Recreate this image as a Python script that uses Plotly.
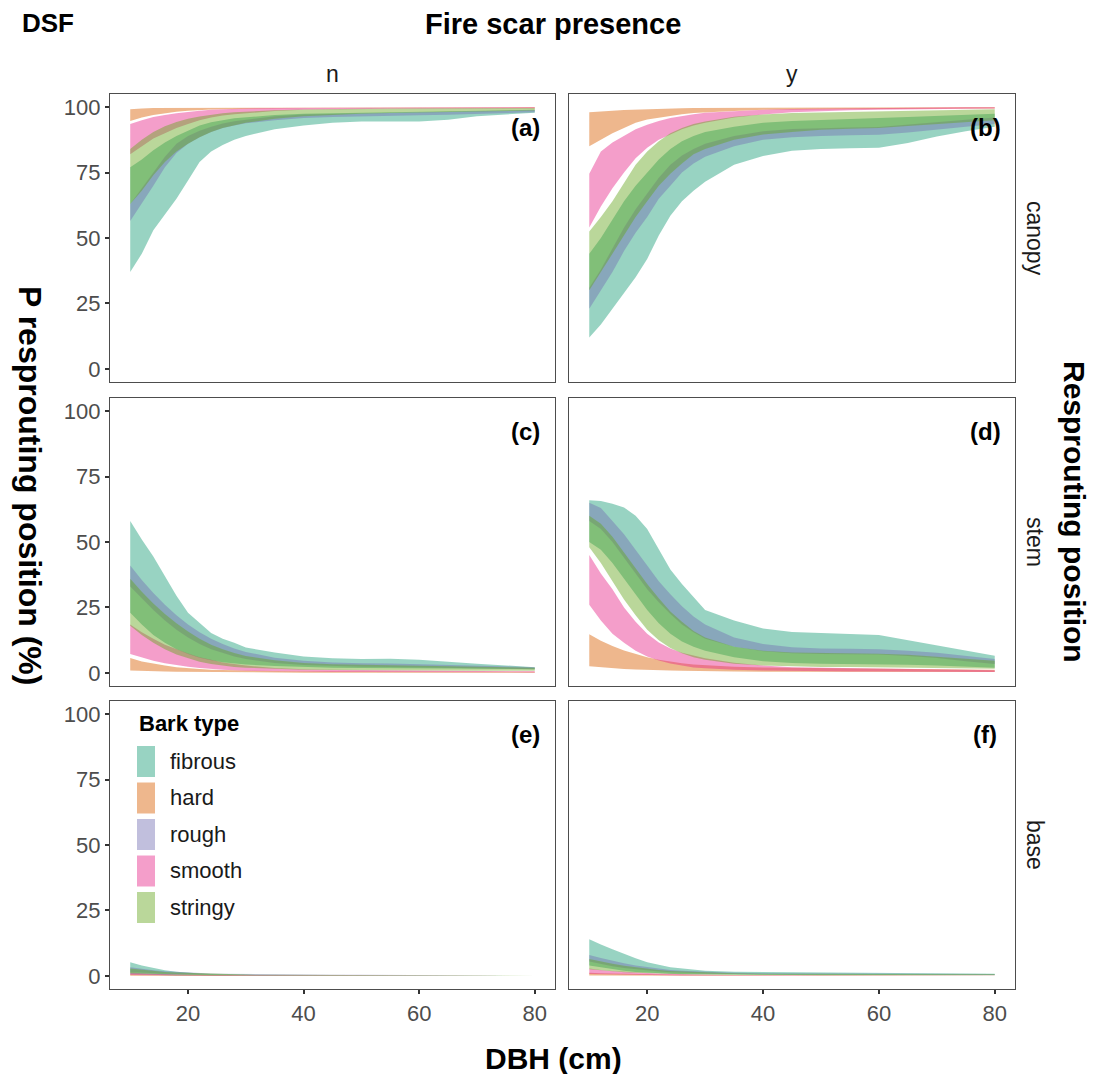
import plotly.graph_objects as go
from plotly.subplots import make_subplots

# ---------------- data ----------------
DBH = [10, 12, 14, 16, 18, 20, 22, 24, 26, 28, 30, 35, 40, 45, 50, 55, 60, 65, 70, 75, 80]
BARK_TYPES = ["fibrous", "hard", "rough", "smooth", "stringy"]
BARK_RGB = {"fibrous": "27,158,119", "hard": "217,95,2", "rough": "117,112,179",
            "smooth": "231,41,138", "stringy": "102,166,30"}
FIRE_SCAR = ["n", "y"]
POSITIONS = ["canopy", "stem", "base"]
PANEL_TAGS = [["(a)", "(b)"], ["(c)", "(d)"], ["(e)", "(f)"]]
X_TICKS = [20, 40, 60, 80]
Y_TICKS = [0, 25, 50, 75, 100]

# canopy, fire scar = n  (panel a)
canopy_n_lower = {
    "fibrous": [37, 44, 53, 59, 65, 72, 79, 83, 85.5, 87.5, 89, 91.5, 93, 94, 94.5, 94.5, 94.5, 95.2, 96.5, 97.2, 97.8],
    "hard":    [94.7, 96, 97, 97.7, 98.2, 98.6, 98.9, 99.1, 99.2, 99.3, 99.4, 99.5, 99.6, 99.6, 99.6, 99.7, 99.7, 99.7, 99.7, 99.7, 99.7],
    "rough":   [56.5, 63, 70, 77, 82.5, 86, 88.5, 90.5, 92, 93, 93.8, 95, 95.8, 96.2, 96.5, 96.7, 96.9, 97.1, 97.4, 97.7, 98],
    "smooth":  [82, 85, 88, 90, 92, 93.5, 95, 96, 96.8, 97.3, 97.7, 98.5, 99, 99.2, 99.3, 99.4, 99.4, 99.5, 99.5, 99.5, 99.5],
    "stringy": [63, 68, 74, 79, 83, 86, 88.5, 90.5, 92, 93, 94, 95.5, 96.5, 97, 97.5, 97.7, 97.9, 98.1, 98.3, 98.5, 98.7],
}
canopy_n_upper = {
    "fibrous": [77, 80, 83.5, 86.5, 89, 91, 93, 94.2, 95, 95.7, 96.2, 97, 97.5, 97.8, 98, 98.1, 98.2, 98.4, 98.6, 98.8, 99],
    "hard":    [99.2, 99.5, 99.7, 99.8, 99.85, 99.9, 99.9, 99.9, 99.9, 99.9, 99.9, 99.9, 99.9, 99.9, 99.9, 99.9, 99.9, 99.9, 99.9, 99.9, 99.9],
    "rough":   [63, 69, 75, 81, 86, 89, 91, 92.5, 93.7, 94.6, 95.3, 96.5, 97.2, 97.6, 97.8, 98, 98.1, 98.3, 98.5, 98.7, 98.9],
    "smooth":  [93.5, 95, 96.2, 97, 97.6, 98.2, 98.6, 99, 99.2, 99.4, 99.5, 99.7, 99.8, 99.85, 99.9, 99.9, 99.9, 99.9, 99.9, 99.9, 99.9],
    "stringy": [84, 87.5, 90.5, 92.7, 94.3, 95.5, 96.4, 97.1, 97.6, 98, 98.3, 98.8, 99.1, 99.3, 99.4, 99.5, 99.5, 99.6, 99.6, 99.7, 99.7],
}

# canopy, fire scar = y  (panel b)
canopy_y_lower = {
    "fibrous": [12, 17, 23, 29, 35, 42, 51, 58.5, 64, 68, 71.5, 78, 81.3, 83.3, 84, 84.3, 84.5, 86.3, 88.8, 90.8, 92.5],
    "hard":    [85, 87.5, 90, 92, 94, 95.3, 96, 96.8, 97.3, 97.7, 98, 98.5, 99, 99.1, 99.2, 99.3, 99.3, 99.4, 99.4, 99.5, 99.5],
    "rough":   [23, 30, 37, 45, 52, 58, 65, 70, 75, 78.5, 81, 85, 87.5, 88.5, 89, 89.2, 89.4, 90.3, 91.5, 92.5, 93.5],
    "smooth":  [54, 62, 69, 75, 80.5, 84.5, 87.5, 89.5, 91.5, 93, 94, 96, 97.2, 98, 98.5, 98.8, 99, 99.2, 99.3, 99.4, 99.5],
    "stringy": [30, 37, 44, 51, 58, 64, 70, 74.5, 78.5, 82, 84, 87.5, 89.5, 90.5, 91.3, 91.7, 92, 92.8, 93.5, 94.3, 95],
}
canopy_y_upper = {
    "fibrous": [44, 50, 57, 64, 70, 75, 80, 84, 87, 89, 90.5, 92.5, 94, 94.7, 95.2, 95.5, 95.8, 96.2, 96.6, 97, 97.5],
    "hard":    [98, 98.3, 98.6, 98.9, 99.1, 99.3, 99.4, 99.5, 99.6, 99.7, 99.7, 99.8, 99.9, 99.9, 99.9, 99.9, 99.9, 99.9, 99.9, 99.9, 99.9],
    "rough":   [31, 38, 46, 54, 61, 67, 73, 78, 81.5, 84, 86, 89, 90.8, 91.6, 92, 92.2, 92.4, 93.2, 94.3, 95.2, 96],
    "smooth":  [74.5, 83, 86.5, 89, 91.5, 93.3, 94.7, 95.8, 96.6, 97.3, 97.8, 98.5, 99, 99.3, 99.5, 99.6, 99.7, 99.8, 99.8, 99.9, 99.9],
    "stringy": [52.5, 58, 64, 71, 78, 83, 87, 90, 92, 93.5, 94.5, 96.3, 97.2, 97.7, 98, 98.2, 98.4, 98.6, 98.8, 99, 99.2],
}

# stem, fire scar = n  (panel c)
stem_n_lower = {
    "fibrous": [23, 18.5, 14.5, 11.5, 9, 7.2, 5.8, 4.8, 4.1, 3.6, 3.2, 2.6, 2.2, 2, 1.9, 1.9, 1.8, 1.7, 1.6, 1.5, 1.4],
    "hard":    [0.9, 0.7, 0.6, 0.5, 0.4, 0.35, 0.3, 0.25, 0.2, 0.2, 0.2, 0.15, 0.1, 0.1, 0.1, 0.1, 0.1, 0.1, 0.1, 0.1, 0.1],
    "rough":   [33, 28.5, 24, 20, 16.5, 13.5, 11, 9, 7.5, 6.3, 5.3, 3.8, 3, 2.6, 2.4, 2.3, 2.2, 2, 1.8, 1.6, 1.4],
    "smooth":  [7.2, 5.8, 4.6, 3.7, 3, 2.4, 1.9, 1.5, 1.2, 1, 0.8, 0.6, 0.4, 0.35, 0.3, 0.3, 0.25, 0.25, 0.2, 0.2, 0.2],
    "stringy": [18, 14.5, 11.5, 9, 7, 5.5, 4.3, 3.4, 2.8, 2.3, 2, 1.5, 1.2, 1.1, 1, 1, 0.9, 0.9, 0.85, 0.8, 0.8],
}
stem_n_upper = {
    "fibrous": [58, 51, 44.5, 37, 29.5, 23, 19.2, 15.2, 13, 11.5, 9.7, 7.8, 6.3, 5.6, 5.3, 5.4, 5, 4.3, 3.5, 2.8, 2.2],
    "hard":    [5.7, 4.4, 3.5, 2.8, 2.2, 1.8, 1.5, 1.2, 1, 0.9, 0.8, 0.7, 0.6, 0.55, 0.5, 0.5, 0.5, 0.45, 0.45, 0.4, 0.4],
    "rough":   [41, 35.5, 30.5, 26, 22, 18.5, 15.5, 13, 11, 9.3, 8, 5.8, 4.6, 4, 3.7, 3.6, 3.5, 3.2, 2.9, 2.5, 2.2],
    "smooth":  [18.5, 15.5, 13, 10.8, 9, 7.4, 6, 5, 4, 3.3, 2.8, 1.9, 1.4, 1.2, 1, 0.9, 0.8, 0.75, 0.7, 0.65, 0.6],
    "stringy": [36, 31, 26.5, 22.5, 19, 15.8, 13, 10.8, 9, 7.6, 6.5, 4.8, 3.8, 3.3, 3, 2.9, 2.8, 2.6, 2.4, 2.2, 2],
}

# stem, fire scar = y  (panel d)
stem_y_lower = {
    "fibrous": [50, 47, 42, 36, 30, 24, 19, 15, 12, 10, 8.5, 6, 4.5, 3.8, 3.5, 3.4, 3.3, 3.1, 2.8, 2.4, 2],
    "hard":    [2.5, 2.1, 1.8, 1.5, 1.3, 1.1, 1, 0.9, 0.8, 0.7, 0.6, 0.5, 0.45, 0.4, 0.4, 0.4, 0.35, 0.3, 0.3, 0.3, 0.3],
    "rough":   [58, 55, 50, 44, 38, 32, 27, 22.5, 18.5, 15.5, 13, 10, 8.3, 7.5, 7.2, 7.1, 7, 6.5, 5.7, 4.5, 3.4],
    "smooth":  [26, 20, 15, 11.5, 8.5, 6.3, 4.7, 3.6, 2.8, 2.1, 1.8, 1.2, 0.9, 0.7, 0.6, 0.55, 0.5, 0.45, 0.4, 0.35, 0.3],
    "stringy": [48, 42, 35, 28, 22, 16.5, 12.5, 9.5, 7.5, 6, 5, 3.5, 2.8, 2.5, 2.3, 2.3, 2.2, 2.1, 2, 1.8, 1.6],
}
stem_y_upper = {
    "fibrous": [65.9, 65.7, 64.6, 63.2, 60, 55, 47.5, 39.5, 34, 29, 24, 20, 17, 15.6, 15.2, 14.9, 14.5, 12.5, 10.5, 8.5, 6.6],
    "hard":    [14.8, 12.3, 10.3, 8.6, 7.3, 6, 5, 4.3, 3.7, 3.2, 2.9, 2.4, 2.1, 1.9, 1.8, 1.7, 1.6, 1.5, 1.4, 1.3, 1.2],
    "rough":   [65, 63, 58, 53, 47, 41, 35, 30, 25.5, 21.5, 18.5, 13.5, 11, 9.8, 9.3, 9.2, 9, 8.5, 7.7, 6.5, 5.3],
    "smooth":  [45, 38, 32, 25, 19.5, 15, 11.6, 9.3, 7.7, 6.6, 5.6, 3.9, 2.8, 2.2, 1.9, 1.75, 1.6, 1.45, 1.3, 1.15, 1],
    "stringy": [60, 57, 52, 46, 40, 34, 28.5, 23.5, 19.5, 16, 13.5, 10, 8.5, 7.8, 7.5, 7.4, 7.3, 6.9, 6.2, 5.4, 4.6],
}

# base, fire scar = n  (panel e)
base_n_lower = {
    "fibrous": [0.6, 0.45, 0.35, 0.25, 0.2, 0.15, 0.12, 0.1, 0.08, 0.07, 0.06, 0.05, 0.04, 0.04, 0.03, 0.03, 0.03, 0.03, 0.03, 0.03, 0.03],
    "hard":    [0.1, 0.08, 0.07, 0.06, 0.05, 0.05, 0.04, 0.04, 0.03, 0.03, 0.03, 0.03, 0.02, 0.02, 0.02, 0.02, 0.02, 0.02, 0.02, 0.02, 0.02],
    "rough":   [1.5, 1.2, 1, 0.8, 0.7, 0.6, 0.5, 0.42, 0.36, 0.32, 0.3, 0.25, 0.2, 0.18, 0.17, 0.16, 0.15, 0.15, 0.15, 0.15, 0.15],
    "smooth":  [0.3, 0.24, 0.2, 0.16, 0.13, 0.1, 0.08, 0.07, 0.06, 0.05, 0.04, 0.04, 0.03, 0.03, 0.03, 0.03, 0.03, 0.03, 0.03, 0.03, 0.03],
    "stringy": [1, 0.85, 0.7, 0.58, 0.48, 0.4, 0.34, 0.29, 0.25, 0.22, 0.2, 0.16, 0.13, 0.12, 0.11, 0.1, 0.1, 0.1, 0.1, 0.1, 0.1],
}
base_n_upper = {
    "fibrous": [5.2, 4, 3, 2.2, 1.6, 1.2, 0.9, 0.7, 0.55, 0.45, 0.4, 0.3, 0.25, 0.22, 0.2, 0.2, 0.2, 0.18, 0.17, 0.16, 0.15],
    "hard":    [0.6, 0.5, 0.42, 0.36, 0.32, 0.3, 0.26, 0.23, 0.2, 0.18, 0.16, 0.13, 0.11, 0.1, 0.1, 0.1, 0.1, 0.1, 0.1, 0.1, 0.1],
    "rough":   [3.3, 2.7, 2.2, 1.8, 1.5, 1.3, 1.1, 0.95, 0.85, 0.75, 0.7, 0.58, 0.5, 0.46, 0.43, 0.42, 0.4, 0.4, 0.4, 0.4, 0.4],
    "smooth":  [1.3, 1.05, 0.85, 0.7, 0.58, 0.5, 0.42, 0.36, 0.3, 0.26, 0.23, 0.18, 0.15, 0.13, 0.12, 0.11, 0.1, 0.1, 0.1, 0.1, 0.1],
    "stringy": [2.8, 2.3, 1.9, 1.5, 1.3, 1.1, 0.9, 0.78, 0.68, 0.6, 0.5, 0.42, 0.36, 0.33, 0.31, 0.3, 0.3, 0.3, 0.3, 0.3, 0.3],
}

# base, fire scar = y  (panel f)
base_y_lower = {
    "fibrous": [4, 3.3, 2.5, 2, 1.5, 1.2, 1, 0.85, 0.72, 0.65, 0.6, 0.5, 0.4, 0.36, 0.34, 0.33, 0.32, 0.31, 0.3, 0.3, 0.3],
    "hard":    [0.2, 0.17, 0.15, 0.13, 0.11, 0.1, 0.09, 0.08, 0.07, 0.06, 0.05, 0.05, 0.04, 0.04, 0.03, 0.03, 0.03, 0.03, 0.03, 0.03, 0.03],
    "rough":   [5.5, 4.5, 3.7, 3, 2.5, 2, 1.7, 1.4, 1.2, 1.05, 0.9, 0.75, 0.6, 0.55, 0.52, 0.5, 0.5, 0.48, 0.45, 0.42, 0.4],
    "smooth":  [0.7, 0.6, 0.5, 0.4, 0.35, 0.3, 0.25, 0.21, 0.18, 0.16, 0.15, 0.11, 0.09, 0.08, 0.07, 0.06, 0.06, 0.05, 0.05, 0.05, 0.05],
    "stringy": [2.5, 2.1, 1.7, 1.4, 1.2, 1, 0.85, 0.72, 0.63, 0.56, 0.5, 0.42, 0.35, 0.31, 0.29, 0.28, 0.27, 0.27, 0.26, 0.25, 0.25],
}
base_y_upper = {
    "fibrous": [14, 12, 10.2, 8.3, 6.7, 5.2, 4.3, 3.3, 2.8, 2.4, 2, 1.6, 1.4, 1.25, 1.15, 1.1, 1.05, 1, 0.95, 0.9, 0.8],
    "hard":    [1.2, 1.05, 0.9, 0.78, 0.68, 0.6, 0.52, 0.46, 0.41, 0.37, 0.35, 0.3, 0.26, 0.24, 0.22, 0.21, 0.21, 0.2, 0.2, 0.2, 0.2],
    "rough":   [8, 6.8, 5.7, 4.8, 4, 3.3, 2.8, 2.3, 2, 1.7, 1.5, 1.2, 1, 0.92, 0.86, 0.83, 0.8, 0.77, 0.74, 0.72, 0.7],
    "smooth":  [2.8, 2.3, 1.9, 1.6, 1.3, 1.1, 0.9, 0.76, 0.65, 0.56, 0.5, 0.38, 0.3, 0.27, 0.25, 0.23, 0.22, 0.21, 0.2, 0.2, 0.2],
    "stringy": [6.5, 5.5, 4.6, 3.9, 3.3, 2.8, 2.3, 1.9, 1.65, 1.45, 1.3, 1, 0.8, 0.72, 0.68, 0.65, 0.63, 0.62, 0.61, 0.6, 0.6],
}

PANELS = [
    [(canopy_n_lower, canopy_n_upper), (canopy_y_lower, canopy_y_upper)],
    [(stem_n_lower, stem_n_upper), (stem_y_lower, stem_y_upper)],
    [(base_n_lower, base_n_upper), (base_y_lower, base_y_upper)],
]

# ---------------- layout geometry (page pixels) ----------------
PAGE_W, PAGE_H = 1095, 1074
BODY_MARGIN = 8          # default browser body margin around the plot div
W, H = PAGE_W - BODY_MARGIN, PAGE_H - BODY_MARGIN
FILL_ALPHA = 0.45
FONT = "Liberation Sans, Arial, Helvetica, sans-serif"
COL_PX = [(110, 555), (569, 1015)]
ROW_PX = [(94, 382), (398, 686), (701, 989)]


def fx(px):
    return (px - BODY_MARGIN) / W


def fy(py):
    return 1 - (py - BODY_MARGIN) / H


fig = make_subplots(rows=3, cols=2)

for r in range(3):
    for c in range(2):
        lower, upper = PANELS[r][c]
        for bt in BARK_TYPES:
            lo = lower[bt]
            hi = upper[bt]
            fig.add_trace(
                go.Scatter(
                    x=DBH + DBH[::-1],
                    y=lo + hi[::-1],
                    fill="toself",
                    fillcolor=f"rgba({BARK_RGB[bt]},{FILL_ALPHA})",
                    line=dict(width=0, color=f"rgba({BARK_RGB[bt]},0)"),
                    mode="lines",
                    name=bt,
                    showlegend=False,
                    hoverinfo="skip",
                ),
                row=r + 1, col=c + 1,
            )
        x0, x1 = COL_PX[c]
        y0, y1 = ROW_PX[r]
        fig.update_xaxes(
            domain=[fx(x0), fx(x1)], range=[6.5, 83.5], tickvals=X_TICKS,
            showticklabels=(r == 2), ticks="outside" if r == 2 else "",
            ticklen=4, tickwidth=1.5, tickcolor="#333333",
            showline=True, mirror=True, linecolor="#4d4d4d", linewidth=1.2,
            showgrid=False, zeroline=False,
            tickfont=dict(size=22, color="#4d4d4d", family=FONT),
            row=r + 1, col=c + 1,
        )
        fig.update_yaxes(
            domain=[fy(y1), fy(y0)], range=[-5, 105], tickvals=Y_TICKS,
            showticklabels=(c == 0), ticks="outside" if c == 0 else "",
            ticklen=4, tickwidth=1.5, tickcolor="#333333",
            showline=True, mirror=True, linecolor="#4d4d4d", linewidth=1.2,
            showgrid=False, zeroline=False,
            tickfont=dict(size=22, color="#4d4d4d", family=FONT),
            row=r + 1, col=c + 1,
        )

annotations = []


def add_text(text, x, y, size, bold=False, angle=0, color="#000000", xanchor="center"):
    annotations.append(dict(
        text=f"<b>{text}</b>" if bold else text,
        x=fx(x), y=fy(y), xref="paper", yref="paper",
        xanchor=xanchor, yanchor="middle", showarrow=False, textangle=angle,
        font=dict(size=size, color=color, family=FONT),
    ))


add_text("DSF", 48, 23, 26, bold=True)
add_text("Fire scar presence", 553, 24, 29, bold=True)
add_text("DBH (cm)", 553, 1058, 30, bold=True)
add_text("P resprouting position (%)", 30, 485, 32, bold=True, angle=90)
add_text("Resprouting position", 1075, 512, 30, bold=True, angle=90)

for c, lab in enumerate(FIRE_SCAR):
    add_text(lab, (COL_PX[c][0] + COL_PX[c][1]) / 2, 74, 23, color="#1a1a1a")
for r, lab in enumerate(POSITIONS):
    add_text(lab, 1035, (ROW_PX[r][0] + ROW_PX[r][1]) / 2, 23, angle=90, color="#1a1a1a")

for r in range(3):
    for c in range(2):
        add_text(PANEL_TAGS[r][c], COL_PX[c][1] - 30, ROW_PX[r][0] + 33, 24, bold=True)

# legend (inside panel e)
shapes = []
add_text("Bark type", 137, 723, 22, bold=True, xanchor="left")
for i, bt in enumerate(BARK_TYPES):
    top = 746 + i * 36.5
    shapes.append(dict(
        type="rect", xref="paper", yref="paper",
        x0=fx(137), x1=fx(155), y0=fy(top + 31), y1=fy(top),
        fillcolor=f"rgba({BARK_RGB[bt]},{FILL_ALPHA})", line=dict(width=0),
    ))
    add_text(bt, 168, top + 15, 22, xanchor="left", color="#1a1a1a")

fig.update_layout(
    width=W, height=H,
    margin=dict(l=0, r=0, t=0, b=0),
    paper_bgcolor="white", plot_bgcolor="white",
    showlegend=False,
    annotations=annotations,
    shapes=shapes,
    font=dict(family=FONT),
)

fig.write_html("out.html")
